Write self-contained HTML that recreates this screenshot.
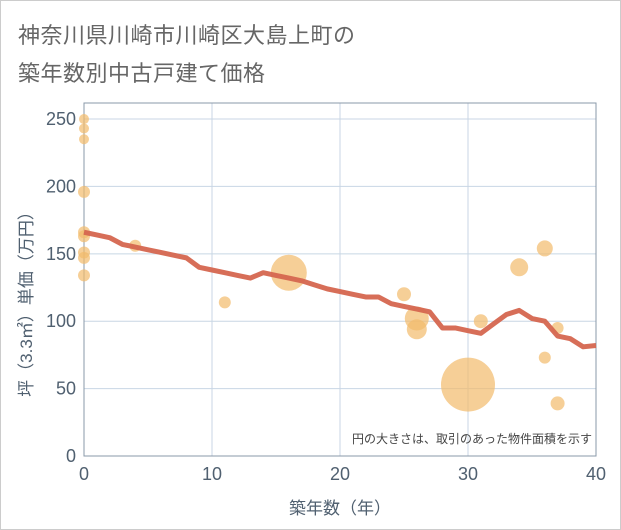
<!DOCTYPE html>
<html><head><meta charset="utf-8"><style>
body{margin:0;background:#fff;}
#wrap{position:relative;width:619px;height:528px;border:1px solid #ccc;background:#fff;font-family:"Liberation Sans","Noto Sans CJK JP",sans-serif;}
.title{position:absolute;left:17px;font-size:22px;color:#666;letter-spacing:0.5px;}
</style></head><body>
<div id="wrap">
<div class="title" style="top:17px">神奈川県川崎市川崎区大島上町の</div>
<div class="title" style="top:55px">築年数別中古戸建て価格</div>
<svg id="chart" width="621" height="530" style="position:absolute;left:-1px;top:-1px"></svg>
</div>
<script>
const xTicks=[0,10,20,30,40];
const yTicks=[0,50,100,150,200,250];
const lineYears=[0,1,2,3,4,5,6,7,8,9,10,11,12,13,14,15,16,17,18,19,20,21,22,23,24,25,26,27,28,29,30,31,32,33,34,35,36,37,38,39,40];
const linePrices=[166,164,162,157,155,153,151,149,147,140,138,136,134,132,136,134,132,130,127,124,122,120,118,118,113,111,109,107,95,95,93,91,98,105,108,102,100,89,87,81,82];
const bubbleYears=[0,0,0,0,0,0,0,0,0,4,11,16,25,26,26,30,31,34,36,36,37,37];
const bubblePrices=[250,243,235,196,166,163,151,147,134,156,114,136,120,102,94,53,100,140,154,73,95,39];
const bubbleSizes=[5,5,5,6,6,6,6,6,6,6,6,18,7,12,10,27,7,9,8,6,6,7];
const L=84,R=596,T=103,B=456,ymax=261.9;
const X=v=>L+(v-0)/40*(R-L);
const Y=v=>B-v/ymax*(B-T);
const svg=document.getElementById('chart');
const NS='http://www.w3.org/2000/svg';
function mk(t,a){const e=document.createElementNS(NS,t);for(const k in a)e.setAttribute(k,a[k]);svg.appendChild(e);return e;}
let e;
xTicks.forEach(v=>{
 e=mk('line',{x1:X(v),x2:X(v),y1:T,y2:B,stroke:'#c8d6e4','stroke-width':1});
 
 
 e=mk('text',{x:X(v),y:B+24,'text-anchor':'middle','font-size':18,fill:'#506070'});e.textContent=v;
 
 
});
yTicks.forEach(v=>{
 e=mk('line',{x1:L,x2:R,y1:Y(v),y2:Y(v),stroke:'#c8d6e4','stroke-width':1});
 
 
 e=mk('text',{x:L-8,y:Y(v)+6,'text-anchor':'end','font-size':18,fill:'#506070'});e.textContent=v;
 
 
});
e=mk('rect',{x:L,y:T,width:R-L,height:B-T,fill:'none',stroke:'#8a98a8','stroke-width':1});


bubbleYears.forEach((yr,i)=>{
 e=mk('circle',{cx:X(yr),cy:Y(bubblePrices[i]),r:bubbleSizes[i],fill:'#f2bb6b','fill-opacity':0.7});
 
 
});
e=mk('polyline',{points:lineYears.map((yr,i)=>X(yr)+','+Y(linePrices[i])).join(' '),fill:'none',stroke:'#d5664f','stroke-width':5,'stroke-linejoin':'round','stroke-opacity':0.95});


e=mk('text',{x:592,y:443,'text-anchor':'end','font-size':12,fill:'#444'});e.textContent='円の大きさは、取引のあった物件面積を示す';


e=mk('text',{x:340,y:514,'text-anchor':'middle','font-size':17,fill:'#506070'});e.textContent='築年数（年）';


e=mk('text',{x:0,y:0,'text-anchor':'middle','font-size':17,fill:'#506070',transform:'translate(32,300) rotate(-90)'});e.textContent='坪（3.3㎡）単価（万円）';


</script>
</body></html>
